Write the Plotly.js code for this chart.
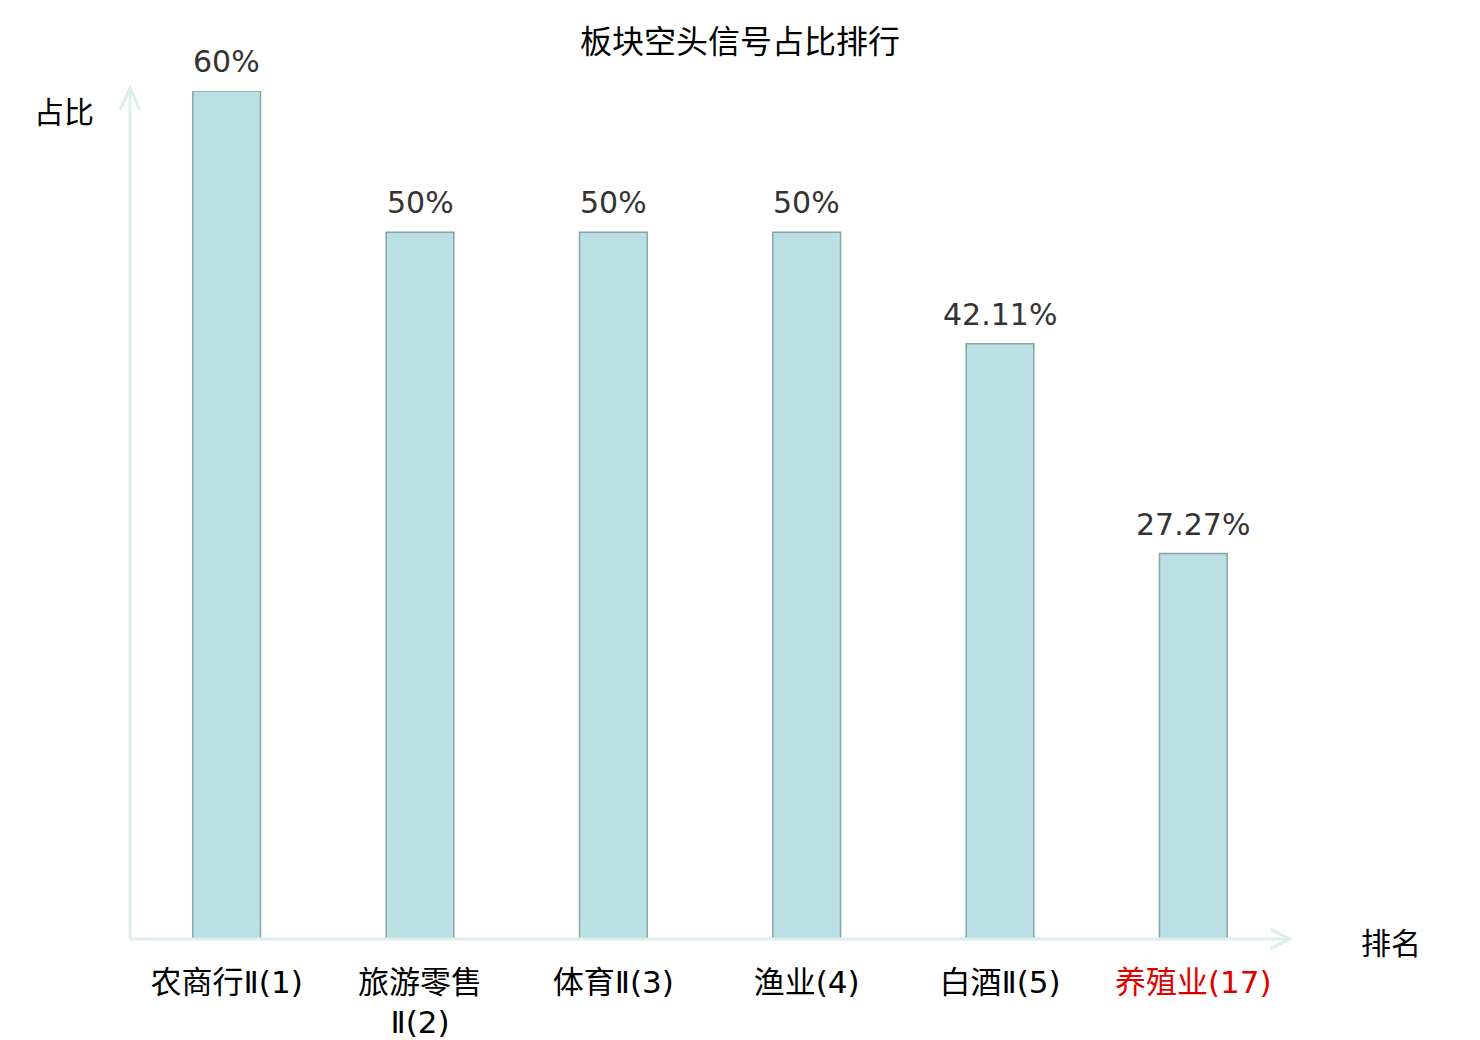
<!DOCTYPE html>
<html>
<head>
<meta charset="utf-8">
<script src="https://cdn.plot.ly/plotly-3.0.1.min.js"></script>
<style>body{margin:0;background:#fff}</style>
</head>
<body>
<div id="plot" style="width:1480px;height:1040px"></div>
<script>
// sectors and their short-signal share (%)
var sectors = ["农商行Ⅱ(1)", "旅游零售<br>Ⅱ(2)", "体育Ⅱ(3)", "渔业(4)", "白酒Ⅱ(5)", "养殖业(17)"];
var shares = [60, 50, 50, 50, 42.11, 27.27];
var shareLabels = ["60%", "50%", "50%", "50%", "42.11%", "27.27%"];
var labelColors = ["#000", "#000", "#000", "#000", "#000", "#e00000"];

var idx = [];
var tickText = [];
var annos = [];
for (var i = 0; i < sectors.length; i++) {
  idx.push(i);
  tickText.push('<span style="color:' + labelColors[i] + '">' + sectors[i] + '</span>');
  annos.push({x: i, y: shares[i], xref: "x", yref: "y", text: shareLabels[i], showarrow: false,
              xanchor: "center", yanchor: "bottom", yshift: 10,
              font: {family: "DejaVu Sans", size: 30, color: "#333"}});
}

var trace = {
  x: idx,
  y: shares,
  type: "bar",
  marker: {color: "#bbe0e3", line: {color: "#86a4a5", width: 1.5}},
  hoverinfo: "none"
};

var axisCol = "#dcefed";
var mixed = "DejaVu Sans, Noto Sans CJK SC";
annos.push({text: "占比", xref: "paper", yref: "paper", x: -0.057, y: 0.978, showarrow: false,
            xanchor: "center", yanchor: "middle", font: {family: "Noto Sans CJK SC", size: 30, color: "#000"}});
annos.push({text: "排名", xref: "paper", yref: "paper", x: 1.087, y: -0.002, showarrow: false,
            xanchor: "center", yanchor: "middle", font: {family: "Noto Sans CJK SC", size: 30, color: "#000"}});

var layout = {
  width: 1480, height: 1040,
  margin: {l: 130, r: 190, t: 91, b: 101},
  paper_bgcolor: "#fff", plot_bgcolor: "#fff",
  showlegend: false,
  bargap: 0.65,
  font: {family: "Noto Sans CJK SC, DejaVu Sans", color: "#000"},
  title: {text: "板块空头信号占比排行", x: 0.5, xref: "container", xanchor: "center", y: 0.96, yanchor: "middle",
          font: {family: "Noto Sans CJK SC", size: 32, color: "#000"}},
  xaxis: {tickvals: idx, ticktext: tickText, range: [-0.5, 5.5], showline: false, showgrid: false, zeroline: false,
          ticks: "", ticklabelstandoff: 22, tickfont: {family: mixed, size: 31, color: "#000"}, fixedrange: true},
  yaxis: {range: [0, 60], showline: false, showgrid: false, zeroline: false, showticklabels: false, ticks: "", fixedrange: true},
  shapes: [
    {type: "line", xref: "paper", yref: "paper", x0: 0, y0: 0, x1: 1.0, y1: 0, line: {color: axisCol, width: 3}},
    {type: "line", xref: "paper", yref: "paper", x0: 0, y0: 0, x1: 0, y1: 1.003, line: {color: axisCol, width: 3}},
    {type: "path", xref: "paper", yref: "paper", path: "M 0.9828 0.0118 L 1.0 0 L 0.9828 -0.0118", line: {color: axisCol, width: 3}},
    {type: "path", xref: "paper", yref: "paper", path: "M -0.0086 0.9776 L 0 1.0035 L 0.0086 0.9776", line: {color: axisCol, width: 3}}
  ],
  annotations: annos
};

Plotly.newPlot("plot", [trace], layout, {displayModeBar: false, staticPlot: true});
</script>
</body>
</html>
